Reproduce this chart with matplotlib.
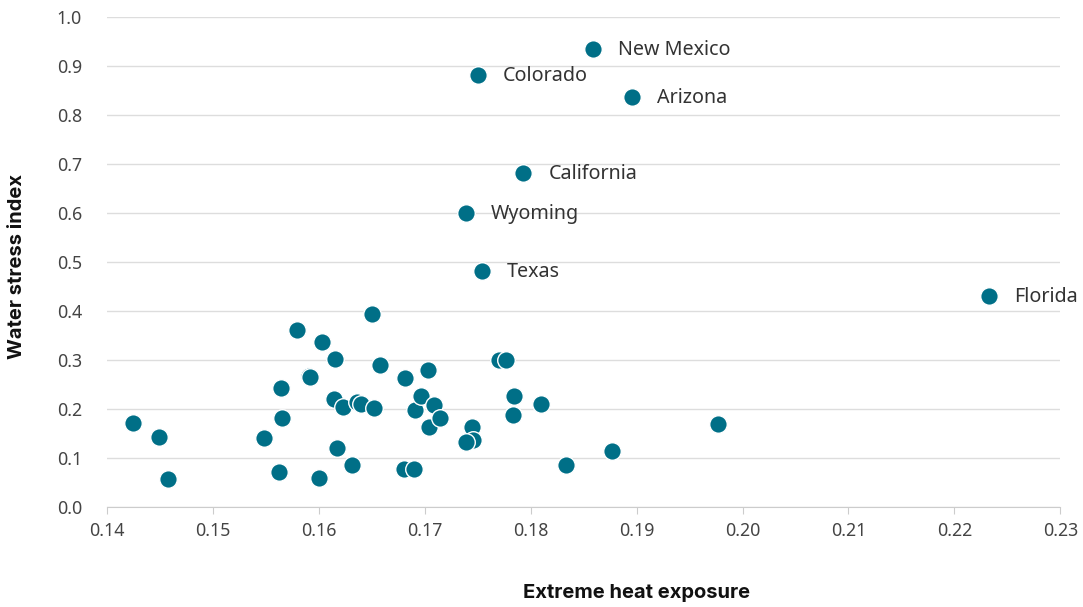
import matplotlib.pyplot as plt

# Extreme heat exposure (x) vs water stress index (y), one point per state
heat = [0.1425, 0.1449, 0.1458, 0.1548, 0.1562, 0.1564, 0.1565, 0.1579, 0.1591, 0.1592,
        0.1600, 0.1603, 0.1615, 0.1614, 0.1617, 0.1623, 0.1631, 0.1636, 0.1640, 0.1650,
        0.1652, 0.1658, 0.1680, 0.1681, 0.1690, 0.1691, 0.1696, 0.1703, 0.1704, 0.1709,
        0.1714, 0.1745, 0.1746, 0.1739, 0.1770, 0.1777, 0.1784, 0.1783, 0.1810, 0.1833,
        0.1877, 0.1977]
stress = [0.172, 0.142, 0.057, 0.141, 0.071, 0.242, 0.182, 0.361, 0.268, 0.265,
          0.059, 0.337, 0.303, 0.220, 0.121, 0.205, 0.086, 0.214, 0.210, 0.394,
          0.203, 0.290, 0.078, 0.263, 0.078, 0.197, 0.227, 0.280, 0.163, 0.208,
          0.182, 0.163, 0.137, 0.132, 0.300, 0.300, 0.226, 0.188, 0.210, 0.086,
          0.114, 0.169]

# labelled states
named = ["New Mexico", "Colorado", "Arizona", "California", "Wyoming", "Texas", "Florida"]
named_heat = [0.1859, 0.1750, 0.1896, 0.1793, 0.1739, 0.1754, 0.2233]
named_stress = [0.935, 0.882, 0.837, 0.682, 0.600, 0.482, 0.431]

teal = "#006f87"
plt.rcParams['font.family'] = ['Noto Sans', 'DejaVu Sans']

fig = plt.figure(figsize=(10.83, 6.07), dpi=100)
ax = fig.add_axes([0.0988, 0.1647, 0.8802, 0.8073])

ax.scatter(heat, stress, s=160, color=teal, edgecolors="white", linewidths=1, zorder=3)
ax.scatter(named_heat, named_stress, s=160, color=teal, edgecolors="white", linewidths=1, zorder=3)

for name, x, y in zip(named, named_heat, named_stress):
    ax.annotate(name, (x, y), xytext=(18, -1), textcoords="offset points",
                ha="left", va="center", fontsize=14.2, color="#333333")

ax.set_xlim(0.14, 0.23)
ax.set_ylim(0.0, 1.0)
ax.set_xticks([0.14 + 0.01 * i for i in range(10)])
ax.set_yticks([0.1 * i for i in range(11)])
ax.xaxis.set_major_formatter(plt.FuncFormatter(lambda v, p: f"{v:.2f}"))
ax.yaxis.set_major_formatter(plt.FuncFormatter(lambda v, p: f"{v:.1f}"))

ax.grid(axis="y", color="#dddddd", linewidth=1)
ax.set_axisbelow(True)
for side in ["top", "right", "left"]:
    ax.spines[side].set_visible(False)
ax.spines["bottom"].set_color("#cccccc")
ax.tick_params(axis="x", colors="#cccccc", length=5, labelcolor="#444444", labelsize=12.8, pad=6)
ax.tick_params(axis="y", length=0, labelcolor="#444444", labelsize=12.8, pad=18)

ax.set_xlabel("Extreme heat exposure", fontsize=14.5, fontweight="bold", color="#111111",
              family="Inter", va="center")
ax.set_ylabel("Water stress index", fontsize=14.5, fontweight="bold", color="#111111",
              family="Inter", va="center")
ax.xaxis.set_label_coords(0.556, -0.176)
ax.yaxis.set_label_coords(-0.0945, 0.49)

fig.savefig("out.png", dpi=100)
